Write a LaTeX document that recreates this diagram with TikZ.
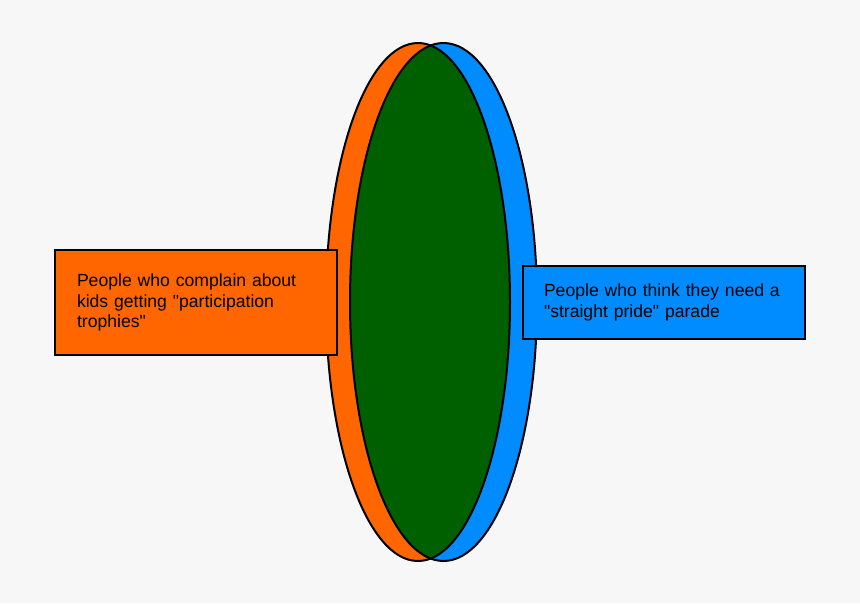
\documentclass[tikz,border=0pt]{standalone}
\usepackage{fontspec}
\setmainfont{Liberation Sans}
\usetikzlibrary{positioning}
\definecolor{bgray}{HTML}{F7F7F7}
\definecolor{vorange}{HTML}{FF6600}
\definecolor{vblue}{HTML}{008CFF}
\definecolor{vgreen}{HTML}{006000}
\tikzset{
  setbox/.style={draw, line width=2pt, align=left, inner xsep=0pt, font=\fontsize{17.6}{20.8}\selectfont},
  setline/.style={draw, line width=2pt},
}
\begin{document}
\begin{tikzpicture}[x=1pt, y=-1pt]
  \useasboundingbox[fill=bgray] (0,0) rectangle (860,603);
  % the two sets
  \fill[vorange] (418,302) ellipse [x radius=92, y radius=259];
  \fill[vblue] (443.5,302) ellipse [x radius=93.5, y radius=259];
  \begin{scope}
    \clip (418,302) ellipse [x radius=92, y radius=259];
    \fill[vgreen] (443.5,302) ellipse [x radius=93.5, y radius=259];
  \end{scope}
  \draw[setline] (418,302) ellipse [x radius=92, y radius=259];
  \draw[setline] (443.5,302) ellipse [x radius=93.5, y radius=259];

  % labels
  \node[setbox, fill=vorange, minimum width=282, minimum height=105, text width=238] (trophies) at (196,302.5)
    {\raisebox{-2pt}{\parbox{238pt}{People who complain about\\kids getting \textquotedbl participation\\trophies\textquotedbl}}};
  \node[setbox, fill=vblue, minimum width=282, minimum height=73, text width=240] (pride) at (664,302.5)
    {\raisebox{-2pt}{\parbox{240pt}{People who think they need a\\\textquotedbl straight pride\textquotedbl{} parade}}};
\end{tikzpicture}
\end{document}
